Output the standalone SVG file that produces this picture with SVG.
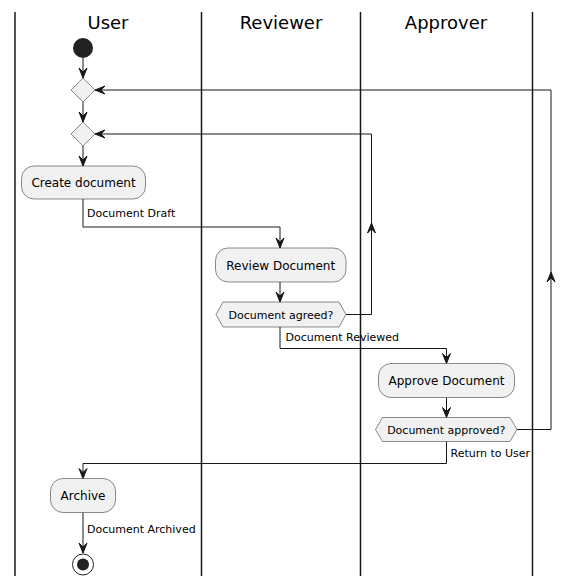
<svg xmlns="http://www.w3.org/2000/svg" width="576" height="587" viewBox="0 0 576 587">
<defs>
<style>
.lane{stroke:#181818;stroke-width:1.5;fill:none}
.title{font-family:"DejaVu Sans",sans-serif;font-size:18px;fill:#000;text-anchor:middle}
.node{fill:#F1F1F1;stroke:#181818;stroke-width:0.5}
.ntxt{font-family:"DejaVu Sans",sans-serif;font-size:12px;fill:#000;text-anchor:middle}
.htxt{font-family:"DejaVu Sans",sans-serif;font-size:11px;fill:#000;text-anchor:middle}
.lbl{font-family:"DejaVu Sans",sans-serif;font-size:11px;fill:#000}
.edge{stroke:#181818;stroke-width:1;fill:none}
.head{fill:#181818;stroke:#181818;stroke-width:1}
</style>
</defs>
<g id="lanes">
<line class="lane" x1="15" y1="12" x2="15" y2="576"/>
<line class="lane" x1="201.5" y1="12" x2="201.5" y2="576"/>
<line class="lane" x1="360.5" y1="12" x2="360.5" y2="576"/>
<line class="lane" x1="532.5" y1="12" x2="532.5" y2="576"/>
<text class="title" x="108" y="29">User</text>
<text class="title" x="281" y="29">Reviewer</text>
<text class="title" x="446" y="29">Approver</text>
</g>
<g id="connectors">
<path class="edge" d="M83,58 V78"/>
<polygon class="head" points="79,68 83,78 87,68 83,72"/>
<path class="edge" d="M83,102 V122"/>
<polygon class="head" points="79,112 83,122 87,112 83,116"/>
<path class="edge" d="M83,146 V166"/>
<polygon class="head" points="79,156 83,166 87,156 83,160"/>
<path class="edge" d="M83,199 V227 H280 V248"/>
<polygon class="head" points="276,238 280,248 284,238 280,242"/>
<text class="lbl" x="87" y="217">Document Draft</text>
<path class="edge" d="M346,314.5 H371.5 V134 H95"/>
<polygon class="head" points="367.5,233 371.5,223 375.5,233 371.5,229"/>
<polygon class="head" points="105,130 95,134 105,138 101,134"/>
<path class="edge" d="M280,282 V302"/>
<polygon class="head" points="276,292 280,302 284,292 280,296"/>
<path class="edge" d="M280,327 V348.5 H446.5 V363.5"/>
<polygon class="head" points="442.5,353.5 446.5,363.5 450.5,353.5 446.5,357.5"/>
<text class="lbl" x="285.5" y="341">Document Reviewed</text>
<path class="edge" d="M446.5,397.5 V417.5"/>
<polygon class="head" points="442.5,407.5 446.5,417.5 450.5,407.5 446.5,411.5"/>
<path class="edge" d="M517,429.5 H551 V90 H95"/>
<polygon class="head" points="547,282 551,272 555,282 551,278"/>
<polygon class="head" points="105,86 95,90 105,94 101,90"/>
<path class="edge" d="M446.5,441.5 V463.5 H83 V478.5"/>
<polygon class="head" points="79,468.5 83,478.5 87,468.5 83,472.5"/>
<text class="lbl" x="450.5" y="456.5">Return to User</text>
<path class="edge" d="M83,512.5 V553"/>
<polygon class="head" points="79,543 83,553 87,543 83,547"/>
<text class="lbl" x="87" y="533">Document Archived</text>
</g>
<g id="start"><circle cx="83" cy="48" r="10" fill="#222222"/></g>
<g id="merge1"><polygon class="node" points="83,78 95,90 83,102 71,90"/></g>
<g id="merge2"><polygon class="node" points="83,122 95,134 83,146 71,134"/></g>
<g id="create">
<rect class="node" x="21.5" y="166" width="124" height="33" rx="12.5"/>
<text class="ntxt" x="83.5" y="187">Create document</text>
</g>
<g id="review">
<rect class="node" x="215.5" y="248" width="130.5" height="34" rx="12.5"/>
<text class="ntxt" x="280.7" y="269.5">Review Document</text>
</g>
<g id="agreed">
<polygon class="node" points="216,314.5 223,302 339,302 346,314.5 339,327 223,327"/>
<text class="htxt" x="281" y="318.5">Document agreed?</text>
</g>
<g id="approve">
<rect class="node" x="378.5" y="363.5" width="136" height="34" rx="12.5"/>
<text class="ntxt" x="446.5" y="385">Approve Document</text>
</g>
<g id="approved">
<polygon class="node" points="375.5,429.5 382.5,417.5 510,417.5 517,429.5 510,441.5 382.5,441.5"/>
<text class="htxt" x="446.3" y="433.5">Document approved?</text>
</g>
<g id="archive">
<rect class="node" x="50.5" y="478.5" width="65" height="34" rx="12.5"/>
<text class="ntxt" x="83" y="500">Archive</text>
</g>
<g id="end">
<circle cx="83" cy="564.5" r="10.5" fill="#ffffff" stroke="#222222" stroke-width="1"/>
<circle cx="83" cy="564.5" r="6" fill="#222222"/>
</g>
</svg>
